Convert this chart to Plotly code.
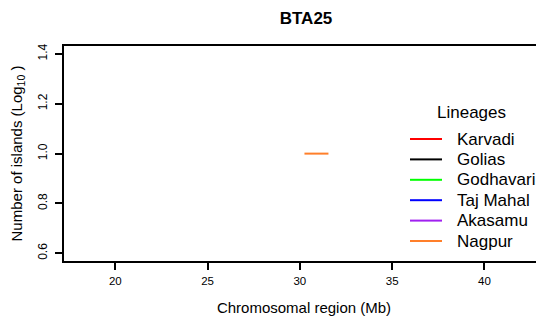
import plotly.graph_objects as go

# Data
lineages = ["Karvadi", "Golias", "Godhavari", "Taj Mahal", "Akasamu", "Nagpur"]
colors = ["#FF0000", "#000000", "#00FF00", "#0000FF", "#A020F0", "#FF7F2A"]
seg_start = {"Karvadi": [], "Golias": [], "Godhavari": [], "Taj Mahal": [], "Akasamu": [], "Nagpur": [30.25]}
seg_end = {"Karvadi": [], "Golias": [], "Godhavari": [], "Taj Mahal": [], "Akasamu": [], "Nagpur": [31.55]}
seg_value = {"Karvadi": [], "Golias": [], "Godhavari": [], "Taj Mahal": [], "Akasamu": [], "Nagpur": [1.0]}
x_ticks = [20, 25, 30, 35, 40]
y_ticks = [0.6, 0.8, 1.0, 1.2, 1.4]

OFF = 8  # page body margin
W, H = 544 - OFF, 320 - OFF
ML, MR, MT, MB = 64 - OFF, 0, 46 - OFF, 320 - 261
PW, PH = W - ML - MR, H - MT - MB


def px_x(p):
    return (p - OFF - ML) / PW


def px_y(p):
    return (H - MB - (p - OFF)) / PH


fig = go.Figure()
for name, col in zip(lineages, colors):
    xs, ys = [], []
    for s, e, v in zip(seg_start[name], seg_end[name], seg_value[name]):
        xs += [s, e, None]
        ys += [v, v, None]
    if not xs:
        xs, ys = [None], [None]
    fig.add_trace(go.Scatter(x=xs, y=ys, mode="lines", name=name, showlegend=False,
                             line=dict(color=col, width=2)))

# Manual legend (R-style)
leg_top = 139.0
leg_step = 20.4
shapes, annots = [], []
annots.append(dict(text="Lineages", xref="paper", yref="paper", x=px_x(471), y=px_y(112),
                   xanchor="center", yanchor="middle", showarrow=False, font=dict(size=17)))
for i, (name, col) in enumerate(zip(lineages, colors)):
    yy = px_y(leg_top + leg_step * i)
    shapes.append(dict(type="line", xref="paper", yref="paper", x0=px_x(410), x1=px_x(442),
                       y0=yy, y1=yy, line=dict(color=col, width=2)))
    annots.append(dict(text=name, xref="paper", yref="paper", x=px_x(455), y=yy,
                       xanchor="left", yanchor="middle", showarrow=False, font=dict(size=17)))

font_family = "Liberation Sans, Arial, sans-serif"
fig.update_layout(
    width=W, height=H,
    margin=dict(l=ML, r=MR, t=MT, b=MB, autoexpand=False),
    paper_bgcolor="white", plot_bgcolor="white",
    font=dict(family=font_family, color="black"),
    title=dict(text="<b>BTA25</b>", x=(306 - OFF) / W, xanchor="center",
               y=1 - (18 - OFF) / H, yanchor="middle", font=dict(size=17)),
    showlegend=False,
    shapes=shapes, annotations=annots,
    xaxis=dict(
        range=[17.22, 43.23], tickvals=x_ticks, ticktext=[str(v) for v in x_ticks],
        showgrid=False, zeroline=False, showline=True, mirror=True,
        linecolor="black", linewidth=1.5, ticks="outside", ticklen=7,
        tickwidth=1.5, tickcolor="black", tickfont=dict(size=11.5), ticklabelstandoff=1,
        title=dict(text="Chromosomal region (Mb)", font=dict(size=15), standoff=17),
    ),
    yaxis=dict(
        range=[0.569, 1.432], tickvals=y_ticks, ticktext=["%.1f" % v for v in y_ticks],
        showgrid=False, zeroline=False, showline=True, mirror=False,
        linecolor="black", linewidth=1.5, ticks="outside", ticklen=7,
        tickwidth=1.5, tickcolor="black", tickfont=dict(size=12), tickangle=-90,
        ticklabelstandoff=3,
        title=dict(text="Number of islands (Log<sub>10</sub> )", font=dict(size=15), standoff=18),
    ),
)

fig.write_html("out.html")
